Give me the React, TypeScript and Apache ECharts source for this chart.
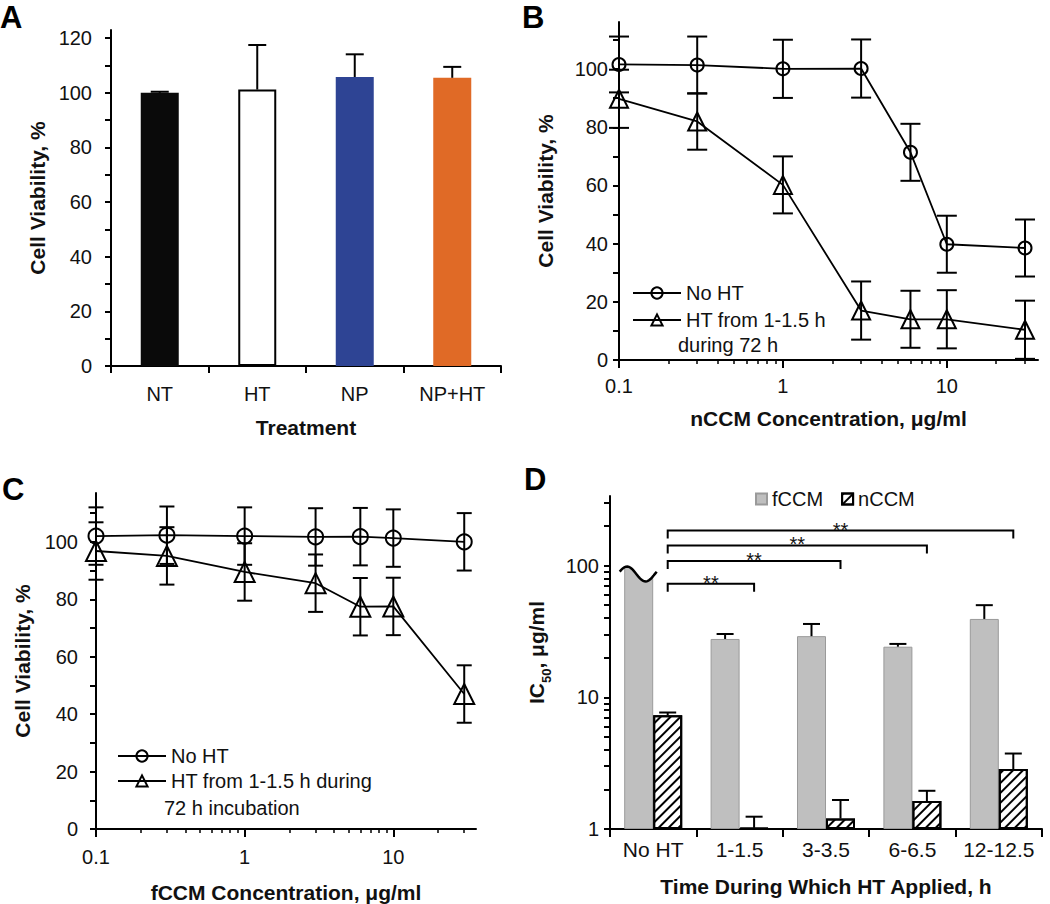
import React, { useEffect, useRef } from 'react';
import * as echarts from 'echarts';

// ---------------- Panel A ----------------
const aCategories = ['NT', 'HT', 'NP', 'NP+HT'];
const aViability = [100, 101.2, 105.8, 105.5];
const aError = [0.4, 16.3, 8.3, 4.0];
const aColors = ['#0a0a0a', '#ffffff', '#2e4494', '#e06a26'];
const aYTicks = [0, 10, 20, 30, 40, 50, 60, 70, 80, 90, 100, 110, 120];
const aYLabels = [0, 20, 40, 60, 80, 100, 120];

// ---------------- Panel B (nCCM) ----------------
const bConc = [0.1, 0.3, 1, 3, 6, 10, 30];
const bNoHT = [101.6, 101.4, 100.1, 100.2, 71.4, 39.8, 38.5];
const bNoHTErr = [9.6, 9.8, 10, 10, 9.8, 9.8, 9.8];
const bHT = [89.8, 82.0, 60.2, 17.0, 14.0, 14.0, 10.4];
const bHTErr = [10, 9.7, 9.8, 10, 9.8, 10, 10];

// ---------------- Panel C (fCCM) ----------------
const cConc = [0.1, 0.3, 1, 3, 6, 10, 30];
const cNoHT = [102.0, 102.3, 102.0, 101.7, 101.8, 101.3, 100.0];
const cNoHTErr = [10, 10, 10, 10, 10, 10, 10];
const cHT = [96.8, 95.1, 89.5, 85.6, 77.4, 77.5, 47.0];
const cHTErr = [10, 10, 10, 10, 10, 10, 10];

const viaYTicks = [0, 10, 20, 30, 40, 50, 60, 70, 80, 90, 100, 110];
const viaYLabels = [0, 20, 40, 60, 80, 100];
const concMajorTicks = [0.1, 1, 10];
const concMinorTicks = [0.2, 0.3, 0.4, 0.5, 0.6, 0.7, 0.8, 0.9, 2, 3, 4, 5, 6, 7, 8, 9, 20, 30];

// ---------------- Panel D (IC50) ----------------
const dCategories = ['No HT', '1-1.5', '3-3.5', '6-6.5', '12-12.5'];
const dFCCM = [100, 27.7, 29.1, 24.2, 39.3];
const dFCCMErr = [0, 2.5, 6.9, 1.2, 10.7];
const dNCCM = [7.3, 1.02, 1.2, 1.63, 2.85];
const dNCCMErr = [0.36, 0.22, 0.46, 0.32, 0.89];
const dYTicks = [1, 2, 3, 4, 5, 6, 7, 8, 9, 10, 20, 30, 40, 50, 60, 70, 80, 90, 100, 200, 300];
const dYLabels = [1, 10, 100];
// significance brackets: [target category index, bracket height (IC50 units)]
const dBrackets = [
  [1, 72.6],
  [2, 108],
  [3, 142],
  [4, 184],
];
const dSigLabel = '**';

const FONT = '"Liberation Sans", Arial, Helvetica, sans-serif';
const TXT = '#111';
const BAR_W_D = 29;

function errorBarSeries(
  name: string,
  xIdx: number,
  yIdx: number,
  rows: number[][],
  capW: number,
  twoSided: boolean,
  shift: number
) {
  return {
    type: 'custom',
    name,
    xAxisIndex: xIdx,
    yAxisIndex: yIdx,
    z: 5,
    clip: false,
    silent: true,
    encode: { x: 0, y: 1 },
    data: rows,
    renderItem: (params: any, api: any) => {
      const x = api.value(0);
      const y = api.value(1);
      const e = api.value(2);
      const side = api.value(3) || 0;
      const top = api.coord([x, y + e]);
      const bot = api.coord([x, twoSided ? Math.max(y - e, 0.0001) : y]);
      const px = top[0] + side * shift;
      const st = { stroke: '#000', lineWidth: 2 };
      const children: any[] = [
        { type: 'line', shape: { x1: px, y1: top[1], x2: px, y2: bot[1] }, style: st },
        { type: 'line', shape: { x1: px - capW / 2, y1: top[1], x2: px + capW / 2, y2: top[1] }, style: st },
      ];
      if (twoSided) {
        children.push({
          type: 'line',
          shape: { x1: px - capW / 2, y1: bot[1], x2: px + capW / 2, y2: bot[1] },
          style: st,
        });
      }
      return { type: 'group', children };
    },
  };
}

function buildOption() {
  const labelStyle = { color: TXT, fontSize: 20, fontFamily: FONT };
  const nameStyle = { color: TXT, fontSize: 21, fontWeight: 'bold', fontFamily: FONT };
  const axisLine = { show: true, onZero: false, lineStyle: { color: '#000', width: 2 } };

  const logX = (grid: number, labelMargin: number, nameGap: number, name: string) => [
    {
      gridIndex: grid,
      type: 'log',
      logBase: 10,
      min: 0.1,
      max: 36,
      position: 'bottom',
      axisLine,
      axisTick: { show: true, customValues: concMajorTicks, length: 8, lineStyle: { color: '#000', width: 2 } },
      axisLabel: { ...labelStyle, margin: labelMargin, customValues: concMajorTicks, formatter: (v: number) => String(v) },
      splitLine: { show: false },
      minorTick: { show: false },
      name,
      nameLocation: 'middle',
      nameGap,
      nameTextStyle: nameStyle,
    },
    {
      gridIndex: grid,
      type: 'log',
      logBase: 10,
      min: 0.1,
      max: 36,
      position: 'bottom',
      axisLine: { show: false },
      axisTick: { show: true, customValues: concMinorTicks, length: 4, lineStyle: { color: '#000', width: 1.5 } },
      axisLabel: { show: false },
      splitLine: { show: false },
    },
  ];

  const viaY = (grid: number, max: number, margin: number) => ({
    gridIndex: grid,
    type: 'value',
    min: 0,
    max,
    axisLine,
    axisTick: { show: true, customValues: viaYTicks, length: 6, lineStyle: { color: '#000', width: 2 } },
    axisLabel: { ...labelStyle, margin, customValues: viaYLabels },
    splitLine: { show: false },
    name: 'Cell Viability, %',
    nameLocation: 'middle',
    nameGap: 63,
    nameTextStyle: nameStyle,
  });

  const lineSeries = (name: string, xIdx: number, yIdx: number, xs: number[], ys: number[], symbol: string, size: number) => ({
    type: 'line',
    name,
    xAxisIndex: xIdx,
    yAxisIndex: yIdx,
    data: xs.map((x, i) => [x, ys[i]]),
    symbol,
    symbolSize: size,
    showAllSymbol: true,
    lineStyle: { color: '#000', width: 1.8 },
    itemStyle: { color: 'rgba(255,255,255,0)', borderColor: '#000', borderWidth: 2 },
    z: 3,
  });

  const waveSeries = {
    type: 'custom',
    name: 'break',
    xAxisIndex: 5,
    yAxisIndex: 3,
    z: 6,
    clip: false,
    silent: true,
    encode: { x: 0, y: 1 },
    data: [[0, dFCCM[0]]],
    renderItem: (params: any, api: any) => {
      const c = api.coord([api.value(0), api.value(1)]);
      const cx = c[0] - BAR_W_D / 2;
      const pts: number[][] = [];
      for (let i = 0; i <= 24; i++) {
        const t = i / 24;
        pts.push([cx - 19 + 37 * t, c[1] + 8.5 - 7.5 * Math.sin(2 * Math.PI * (t + 0.05))]);
      }
      const poly = pts.concat([
        [cx + 19, c[1] - 4],
        [cx - 19, c[1] - 4],
      ]);
      return {
        type: 'group',
        children: [
          { type: 'polygon', shape: { points: poly }, style: { fill: '#fff', stroke: null } },
          { type: 'polyline', shape: { points: pts }, style: { stroke: '#000', lineWidth: 2.5, fill: null } },
        ],
      };
    },
  };

  const bracketSeries = {
    type: 'custom',
    name: 'significance',
    xAxisIndex: 5,
    yAxisIndex: 3,
    z: 6,
    clip: false,
    silent: true,
    encode: { x: 0, y: 1 },
    data: dBrackets,
    renderItem: (params: any, api: any) => {
      const to = api.value(0);
      const yv = api.value(1);
      const p0 = api.coord([0, yv]);
      const p1 = api.coord([to, yv]);
      const x0 = p0[0] + BAR_W_D / 2;
      const x1 = p1[0] + BAR_W_D / 2;
      const y = p0[1];
      return {
        type: 'group',
        children: [
          {
            type: 'polyline',
            shape: { points: [[x0, y + 8], [x0, y], [x1, y], [x1, y + 8]] },
            style: { stroke: '#000', lineWidth: 2, fill: null },
          },
          {
            type: 'text',
            x: (x0 + x1) / 2,
            y: y - 1,
            style: {
              text: dSigLabel,
              fill: TXT,
              font: `20px ${FONT}`,
              align: 'center',
              verticalAlign: 'middle',
              textAlign: 'center',
              textVerticalAlign: 'middle',
            },
          },
        ],
      };
    },
  };

  const letter = (t: string, x: number, y: number) => ({
    type: 'text',
    x,
    y,
    style: {
      text: t,
      fill: '#000',
      font: `bold 31px ${FONT}`,
      verticalAlign: 'top',
      textVerticalAlign: 'top',
    },
  });
  const note = (t: string, x: number, y: number) => ({
    type: 'text',
    x,
    y,
    style: {
      text: t,
      fill: TXT,
      font: `20px ${FONT}`,
      verticalAlign: 'middle',
      textVerticalAlign: 'middle',
    },
  });

  return {
    animation: false,
    backgroundColor: '#ffffff',
    textStyle: { fontFamily: FONT },
    grid: [
      { left: 111, top: 30, width: 390, height: 336 },
      { left: 619, top: 22, width: 419, height: 338 },
      { left: 96, top: 493, width: 380, height: 336 },
      { left: 610, top: 496, width: 432, height: 333 },
    ],
    xAxis: [
      {
        gridIndex: 0,
        type: 'category',
        data: aCategories,
        axisLine,
        axisTick: { show: true, length: 7, lineStyle: { color: '#000', width: 2 } },
        axisLabel: { ...labelStyle, margin: 18, interval: 0 },
        name: 'Treatment',
        nameLocation: 'middle',
        nameGap: 51,
        nameTextStyle: nameStyle,
      },
      ...logX(1, 16, 48, 'nCCM Concentration, μg/ml'),
      ...logX(2, 18, 53, 'fCCM Concentration, μg/ml'),
      {
        gridIndex: 3,
        type: 'category',
        data: dCategories,
        axisLine,
        axisTick: { show: true, length: 8, interval: 0, lineStyle: { color: '#000', width: 2 } },
        axisLabel: { ...labelStyle, fontSize: 21, margin: 10, interval: 0, hideOverlap: false },
        name: 'Time During Which HT Applied, h',
        nameLocation: 'middle',
        nameGap: 47,
        nameTextStyle: nameStyle,
      },
    ],
    yAxis: [
      {
        gridIndex: 0,
        type: 'value',
        min: 0,
        max: 123,
        axisLine,
        axisTick: { show: true, customValues: aYTicks, length: 6, lineStyle: { color: '#000', width: 2 } },
        axisLabel: { ...labelStyle, margin: 19, customValues: aYLabels },
        splitLine: { show: false },
        name: 'Cell Viability, %',
        nameLocation: 'middle',
        nameGap: 63,
        nameTextStyle: nameStyle,
      },
      viaY(1, 116.2, 11),
      viaY(2, 117, 18),
      {
        gridIndex: 3,
        type: 'log',
        logBase: 10,
        min: 1,
        max: 337,
        axisLine,
        axisTick: { show: true, customValues: dYTicks, length: 6, lineStyle: { color: '#000', width: 2 } },
        axisLabel: { ...labelStyle, margin: 11, customValues: dYLabels, formatter: (v: number) => String(v) },
        splitLine: { show: false },
        minorTick: { show: false },
        name: '{b|IC}{s|50}{b|, μg/ml}',
        nameLocation: 'middle',
        nameGap: 57,
        nameTextStyle: {
          padding: [0, 0, 0, 20],
          rich: {
            b: { fontSize: 21, fontWeight: 'bold', fontFamily: FONT, color: TXT, padding: [0, 0, 6, 0], verticalAlign: 'bottom' },
            s: { fontSize: 13, fontWeight: 'bold', fontFamily: FONT, color: TXT, verticalAlign: 'bottom' },
          },
        },
      },
    ],
    legend: [
      {
        left: 627,
        top: 278,
        orient: 'vertical',
        itemWidth: 48,
        itemHeight: 14,
        itemGap: 7,
        selectedMode: false,
        data: ['No HT', 'HT from 1-1.5 h'],
        textStyle: { color: TXT, fontSize: 20, fontFamily: FONT },
      },
      {
        left: 112,
        top: 741,
        orient: 'vertical',
        itemWidth: 48,
        itemHeight: 14,
        itemGap: 5,
        selectedMode: false,
        data: ['No HT', 'HT from 1-1.5 h during'],
        textStyle: { color: TXT, fontSize: 20, fontFamily: FONT },
      },
      {
        left: 750,
        top: 484,
        orient: 'horizontal',
        itemWidth: 11,
        itemHeight: 11,
        itemGap: 18,
        icon: 'rect',
        selectedMode: false,
        data: ['fCCM', 'nCCM'],
        textStyle: { color: TXT, fontSize: 20, fontFamily: FONT },
      },
    ],
    graphic: [
      letter('A', 0, 2),
      letter('B', 522, 2),
      letter('C', 2, 474),
      letter('D', 524, 464),
      note('during 72 h', 678, 345),
      note('72 h incubation', 164, 808),
    ],
    series: [
      // Panel A
      {
        type: 'bar',
        name: 'Viability',
        xAxisIndex: 0,
        yAxisIndex: 0,
        barWidth: 38,
        data: aViability.map((v, i) => ({
          value: v,
          itemStyle: {
            color: aColors[i],
            borderColor: i === 1 ? '#000' : aColors[i],
            borderWidth: i === 1 ? 2 : 0,
          },
        })),
      },
      errorBarSeries('A err', 0, 0, aViability.map((v, i) => [i, v, aError[i], 0]), 18, false, 0),

      // Panel B
      lineSeries('No HT', 1, 1, bConc, bNoHT, 'circle', 13),
      lineSeries('HT from 1-1.5 h', 1, 1, bConc, bHT, 'triangle', 18),
      errorBarSeries('B err1', 1, 1, bConc.map((x, i) => [x, bNoHT[i], bNoHTErr[i], 0]), 20, true, 0),
      errorBarSeries('B err2', 1, 1, bConc.map((x, i) => [x, bHT[i], bHTErr[i], 0]), 20, true, 0),

      // Panel C
      lineSeries('No HT', 3, 2, cConc, cNoHT, 'circle', 15),
      lineSeries('HT from 1-1.5 h during', 3, 2, cConc, cHT, 'triangle', 20),
      errorBarSeries('C err1', 3, 2, cConc.map((x, i) => [x, cNoHT[i], cNoHTErr[i], 0]), 15, true, 0),
      errorBarSeries('C err2', 3, 2, cConc.map((x, i) => [x, cHT[i], cHTErr[i], 0]), 15, true, 0),

      // Panel D
      {
        type: 'bar',
        name: 'fCCM',
        xAxisIndex: 5,
        yAxisIndex: 3,
        barWidth: BAR_W_D,
        barGap: '0%',
        data: dFCCM,
        itemStyle: { color: '#bfbfbf', borderColor: '#9a9a9a', borderWidth: 1 },
      },
      {
        type: 'bar',
        name: 'nCCM',
        xAxisIndex: 5,
        yAxisIndex: 3,
        barWidth: BAR_W_D,
        barGap: '0%',
        data: dNCCM,
        itemStyle: {
          color: '#ffffff',
          borderColor: '#000',
          borderWidth: 2,
          decal: {
            symbol: 'rect',
            symbolSize: 1,
            dashArrayX: [1, 0],
            dashArrayY: [2, 5],
            rotation: -Math.PI / 4,
            color: '#000',
          },
        },
      },
      errorBarSeries(
        'D err f',
        5,
        3,
        dFCCM.map((v, i) => [i, v, dFCCMErr[i], -1]).filter((r) => r[2] > 0),
        17,
        false,
        BAR_W_D / 2
      ),
      errorBarSeries('D err n', 5, 3, dNCCM.map((v, i) => [i, v, dNCCMErr[i], 1]), 17, false, BAR_W_D / 2),
      waveSeries,
      bracketSeries,
    ],
  };
}

export default function App() {
  const ref = useRef<HTMLDivElement>(null);
  useEffect(() => {
    if (!ref.current) return;
    const chart = echarts.init(ref.current, null, { renderer: 'svg', width: 1050, height: 904 });
    chart.setOption(buildOption() as any);
    return () => chart.dispose();
  }, []);
  return (
    <div
      ref={ref}
      style={{ position: 'absolute', left: 0, top: 0, width: 1050, height: 904, background: '#fff' }}
    />
  );
}
